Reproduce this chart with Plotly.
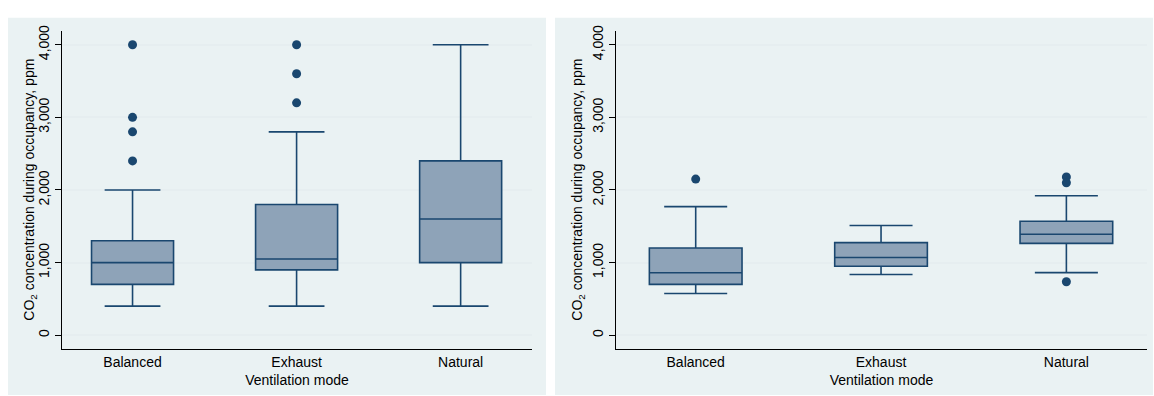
import plotly.graph_objects as go

categories = ["Balanced", "Exhaust", "Natural"]

# Left panel statistics
left_q1 = [700, 900, 1000]
left_median = [1000, 1050, 1600]
left_q3 = [1300, 1800, 2400]
left_lower = [400, 400, 400]
left_upper = [2000, 2800, 4000]
left_outliers = {
    "Balanced": [4000, 3000, 2800, 2400],
    "Exhaust": [4000, 3600, 3200],
    "Natural": [],
}

# Right panel statistics
right_q1 = [700, 950, 1265]
right_median = [860, 1070, 1390]
right_q3 = [1200, 1275, 1570]
right_lower = [575, 835, 862]
right_upper = [1770, 1510, 1920]
right_outliers = {
    "Balanced": [2150],
    "Exhaust": [],
    "Natural": [2180, 2100, 736],
}

y_ticks = [0, 1000, 2000, 3000, 4000]
y_ticktext = ["0", "1,000", "2,000", "3,000", "4,000"]
y_title = "CO<sub>2</sub> concentration during occupancy, ppm"
x_title = "Ventilation mode"

LINE = "#1A476F"
FILL = "#8EA3B8"
BG = "#EAF2F3"
GRID = "#E6EEF0"
W, H = 1154, 396

fig = go.Figure()

def add_panel(q1, med, q3, lo, hi, outl, xa, ya):
    for i, c in enumerate(categories):
        fig.add_trace(go.Box(
            x=[c], q1=[q1[i]], median=[med[i]], q3=[q3[i]],
            lowerfence=[lo[i]], upperfence=[hi[i]],
            boxpoints=False, width=0.5, whiskerwidth=0.68,
            fillcolor=FILL, line=dict(color=LINE, width=1.6),
            xaxis=xa, yaxis=ya, showlegend=False, hoverinfo="skip",
        ))
        if outl[c]:
            fig.add_trace(go.Scatter(
                x=[c] * len(outl[c]), y=outl[c], mode="markers",
                marker=dict(color=LINE, size=9),
                xaxis=xa, yaxis=ya, showlegend=False, hoverinfo="skip",
            ))

add_panel(left_q1, left_median, left_q3, left_lower, left_upper, left_outliers, "x", "y")
add_panel(right_q1, right_median, right_q3, right_lower, right_upper, right_outliers, "x2", "y2")

def px_x(p):
    return p / W

def px_y(p):
    return 1 - p / H

font = dict(family="Liberation Sans, Arial, sans-serif", size=14, color="#000000")

xaxis_common = dict(
    type="category", categoryorder="array", categoryarray=categories,
    range=[-0.43, 2.435], showgrid=False, zeroline=False,
    showline=True, linecolor="#000000", linewidth=1, ticks="",
    tickfont=font, title=dict(text=x_title, font=font, standoff=6),
)
yaxis_common = dict(
    range=[-186, 4194], tickvals=y_ticks, ticktext=y_ticktext,
    tickangle=-90, showgrid=True, gridcolor=GRID, gridwidth=1.5,
    zeroline=False, showline=True, linecolor="#000000", linewidth=1,
    ticks="outside", ticklen=6, tickcolor="#000000", tickfont=font,
)

plot_mid_y = px_y((25 + 348) / 2)

fig.update_layout(
    width=W, height=H,
    margin=dict(l=0, r=0, t=0, b=0),
    paper_bgcolor="white", plot_bgcolor="white",
    font=font,
    xaxis=dict(domain=[px_x(62), px_x(532)], anchor="y", **xaxis_common),
    yaxis=dict(domain=[px_y(348), px_y(25)], anchor="x", **yaxis_common),
    xaxis2=dict(domain=[px_x(616), px_x(1147)], anchor="y2", **xaxis_common),
    yaxis2=dict(domain=[px_y(348), px_y(25)], anchor="x2", **yaxis_common),
    annotations=[
        dict(text=y_title, xref="paper", yref="paper", x=px_x(30), y=plot_mid_y,
             textangle=-90, showarrow=False, font=font, xanchor="center", yanchor="middle"),
        dict(text=y_title, xref="paper", yref="paper", x=px_x(578), y=plot_mid_y,
             textangle=-90, showarrow=False, font=font, xanchor="center", yanchor="middle"),
    ],
    shapes=[
        dict(type="rect", xref="paper", yref="paper",
             x0=px_x(8), x1=px_x(546), y0=px_y(395), y1=px_y(12),
             fillcolor=BG, line=dict(width=0), layer="below"),
        dict(type="rect", xref="paper", yref="paper",
             x0=px_x(555), x1=px_x(1153), y0=px_y(395), y1=px_y(12),
             fillcolor=BG, line=dict(width=0), layer="below"),
    ],
)

fig.write_html(
    "out.html",
    config={"displayModeBar": False},
    post_script="document.body.style.margin='0';document.body.style.overflow='hidden';",
)
